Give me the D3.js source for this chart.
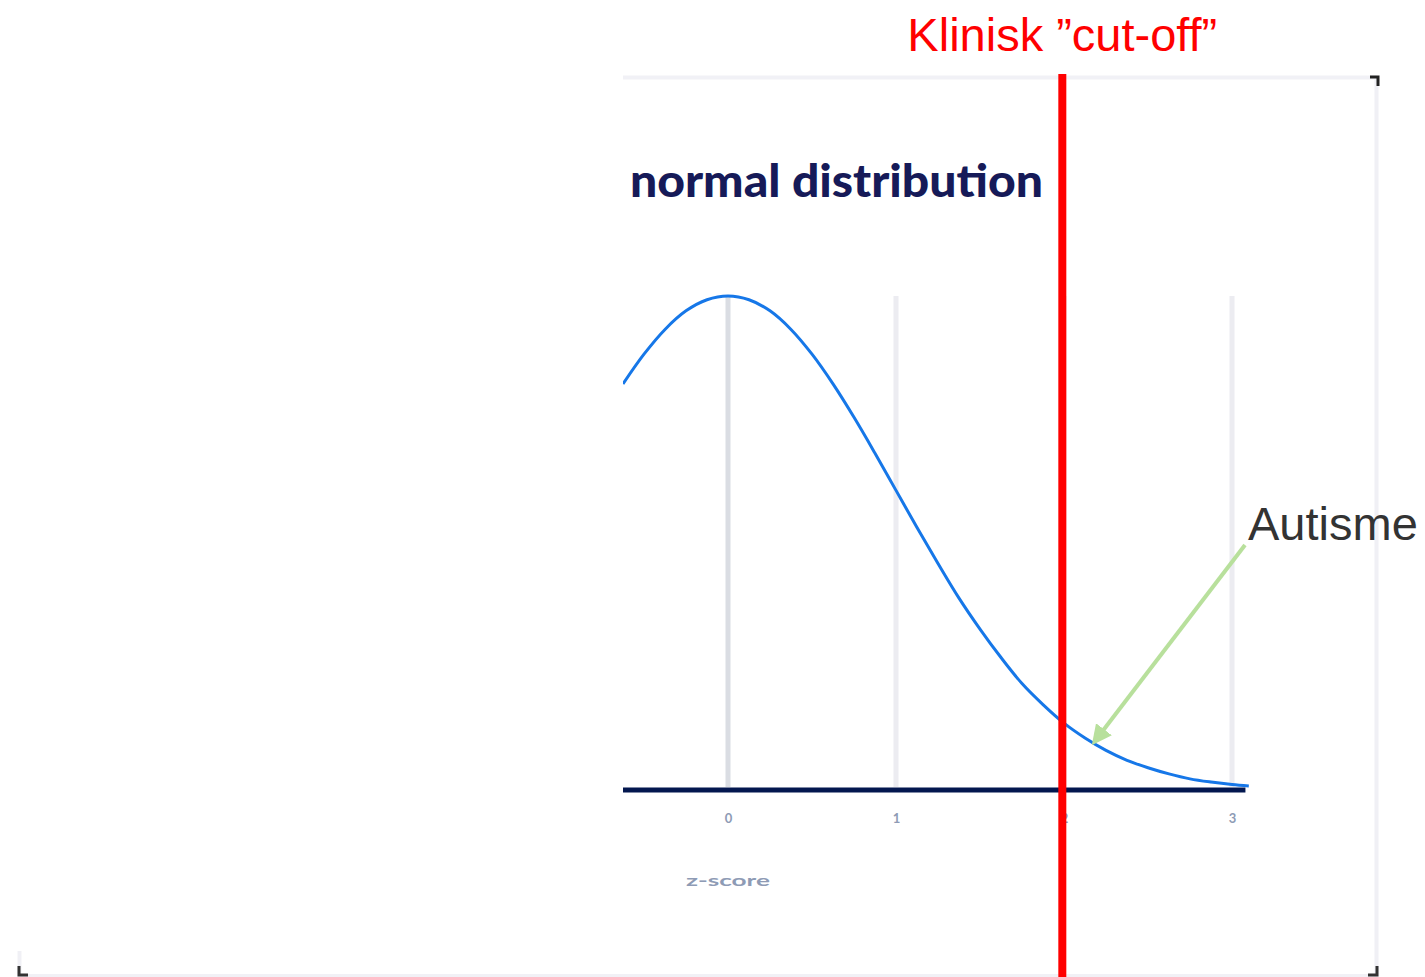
<!DOCTYPE html>
<html>
<head>
<meta charset="utf-8">
<script src="https://cdn.jsdelivr.net/npm/d3@7"></script>
<style>
  html, body { margin: 0; padding: 0; background: #ffffff; }
  svg { display: block; }
</style>
</head>
<body>
<svg id="chart" width="1425" height="977"></svg>
<script>
// ---- data ----
const zValues = [-0.625, -0.5, -0.375, -0.25, -0.125, 0, 0.125, 0.25, 0.375, 0.5, 0.625, 0.75, 0.875, 1, 1.125, 1.25, 1.375, 1.5, 1.625, 1.75, 1.875, 2, 2.125, 2.25, 2.375, 2.5, 2.625, 2.75, 2.875, 3, 3.1];
const density = [0.328, 0.352, 0.372, 0.387, 0.396, 0.399, 0.396, 0.387, 0.372, 0.352, 0.328, 0.301, 0.272, 0.242, 0.212, 0.183, 0.155, 0.130, 0.107, 0.086, 0.069, 0.054, 0.042, 0.032, 0.024, 0.018, 0.013, 0.009, 0.0064, 0.0044, 0.0033];
const tickValues = [0, 1, 2, 3];
const tickLabels = ["0", "1", "2", "3"];
const cutoffZ = 1.99;
const chartTitle = "normal distribution";
const axisTitle = "z-score";
const cutoffLabel = "Klinisk \u201Dcut-off\u201D";
const groupLabel = "Autisme";
const arrowTipZ = 2.18;

const svg = d3.select("#chart");

const x = d3.scaleLinear().domain([0, 3]).range([728, 1232]);
const y = d3.scaleLinear().domain([0, 0.399]).range([790, 296]);

// frame (cropped picture border)
const frame = svg.append("g");
frame.append("line").attr("x1", 623).attr("x2", 1377).attr("y1", 77.5).attr("y2", 77.5)
  .attr("stroke", "#f1f1f6").attr("stroke-width", 4);
frame.append("line").attr("x1", 1376.5).attr("x2", 1376.5).attr("y1", 77).attr("y2", 977)
  .attr("stroke", "#f0f0f5").attr("stroke-width", 4);
frame.append("line").attr("x1", 18).attr("x2", 1378).attr("y1", 975.5).attr("y2", 975.5)
  .attr("stroke", "#f1f1f6").attr("stroke-width", 3);
frame.append("line").attr("x1", 19.5).attr("x2", 19.5).attr("y1", 951).attr("y2", 977)
  .attr("stroke", "#f0f0f5").attr("stroke-width", 4);
// corner handles
frame.append("path").attr("d", "M1370,77 L1378,77 L1378,86").attr("fill", "none")
  .attr("stroke", "#222").attr("stroke-width", 3);
frame.append("path").attr("d", "M19,966 L19,975 L28,975").attr("fill", "none")
  .attr("stroke", "#333").attr("stroke-width", 3);
frame.append("path").attr("d", "M1368,975 L1377,975 L1377,966").attr("fill", "none")
  .attr("stroke", "#333").attr("stroke-width", 3);

// title
svg.append("text")
  .attr("x", 630).attr("y", 197)
  .attr("font-family", "Lato, 'Open Sans', sans-serif")
  .attr("font-weight", 900)
  .attr("font-size", 46)
  .attr("textLength", 413)
  .attr("lengthAdjust", "spacingAndGlyphs")
  .attr("fill", "#161a58")
  .text(chartTitle);

// gridlines
svg.append("g").selectAll("line")
  .data(tickValues)
  .join("line")
  .attr("x1", d => x(d)).attr("x2", d => x(d))
  .attr("y1", y(0.399)).attr("y2", 787)
  .attr("stroke", (d, i) => i === 0 ? "#dadde3" : "#ececf1")
  .attr("stroke-width", 5);

// curve
const clip = svg.append("clipPath").attr("id", "plotclip");
clip.append("rect").attr("x", 623).attr("y", 250).attr("width", 700).attr("height", 560);

const line = d3.line()
  .x((d, i) => x(zValues[i]))
  .y(d => y(d))
  .curve(d3.curveCatmullRom);

svg.append("path")
  .datum(density)
  .attr("clip-path", "url(#plotclip)")
  .attr("d", line)
  .attr("fill", "none")
  .attr("stroke", "#1677e8")
  .attr("stroke-width", 3);

// axis line
svg.append("line")
  .attr("x1", 623).attr("x2", x(3.08))
  .attr("y1", 790).attr("y2", 790)
  .attr("stroke", "#03174f").attr("stroke-width", 5);

// axis tick labels
const axis = d3.axisBottom(x)
  .tickValues(tickValues)
  .tickFormat((d, i) => tickLabels[i])
  .tickSize(0)
  .tickPadding(24);
const axG = svg.append("g").attr("transform", "translate(0,790)").call(axis);
axG.select(".domain").remove();
axG.selectAll("text")
  .attr("font-family", "Lato, sans-serif")
  .attr("font-size", 13)
  .attr("font-weight", 700)
  .attr("fill", "#8e9bb5");

svg.append("text")
  .attr("x", 686).attr("y", 886)
  .attr("font-family", "Lato, sans-serif")
  .attr("font-size", 15)
  .attr("font-weight", 700)
  .attr("textLength", 84)
  .attr("lengthAdjust", "spacingAndGlyphs")
  .attr("fill", "#8e9bb5")
  .text(axisTitle);

// cutoff line
svg.append("line")
  .attr("x1", x(cutoffZ)).attr("x2", x(cutoffZ))
  .attr("y1", 74).attr("y2", 977)
  .attr("stroke", "#ff0000").attr("stroke-width", 8);

svg.append("text")
  .attr("x", x(cutoffZ)).attr("y", 51)
  .attr("text-anchor", "middle")
  .attr("font-family", "'Liberation Sans', Arial, sans-serif")
  .attr("font-size", 47)
  .attr("fill", "#ff0000")
  .text(cutoffLabel);

// annotation arrow
const defs = svg.append("defs");
defs.append("marker")
  .attr("id", "arrowhead")
  .attr("viewBox", "0 0 10 10")
  .attr("refX", 8).attr("refY", 5)
  .attr("markerWidth", 5).attr("markerHeight", 5)
  .attr("orient", "auto")
  .append("path")
  .attr("d", "M0,0 L10,5 L0,10 z")
  .attr("fill", "#b8e09c");

const tipX = x(arrowTipZ);
const tipY = y(density[zValues.indexOf(2.125)]) + 4;
svg.append("line")
  .attr("x1", 1245).attr("y1", 545)
  .attr("x2", tipX).attr("y2", tipY)
  .attr("stroke", "#b8e09c").attr("stroke-width", 4)
  .attr("marker-end", "url(#arrowhead)");

svg.append("text")
  .attr("x", 1248).attr("y", 540)
  .attr("font-family", "'Liberation Sans', Arial, sans-serif")
  .attr("font-size", 47)
  .attr("fill", "#333333")
  .text(groupLabel);
</script>
</body>
</html>
